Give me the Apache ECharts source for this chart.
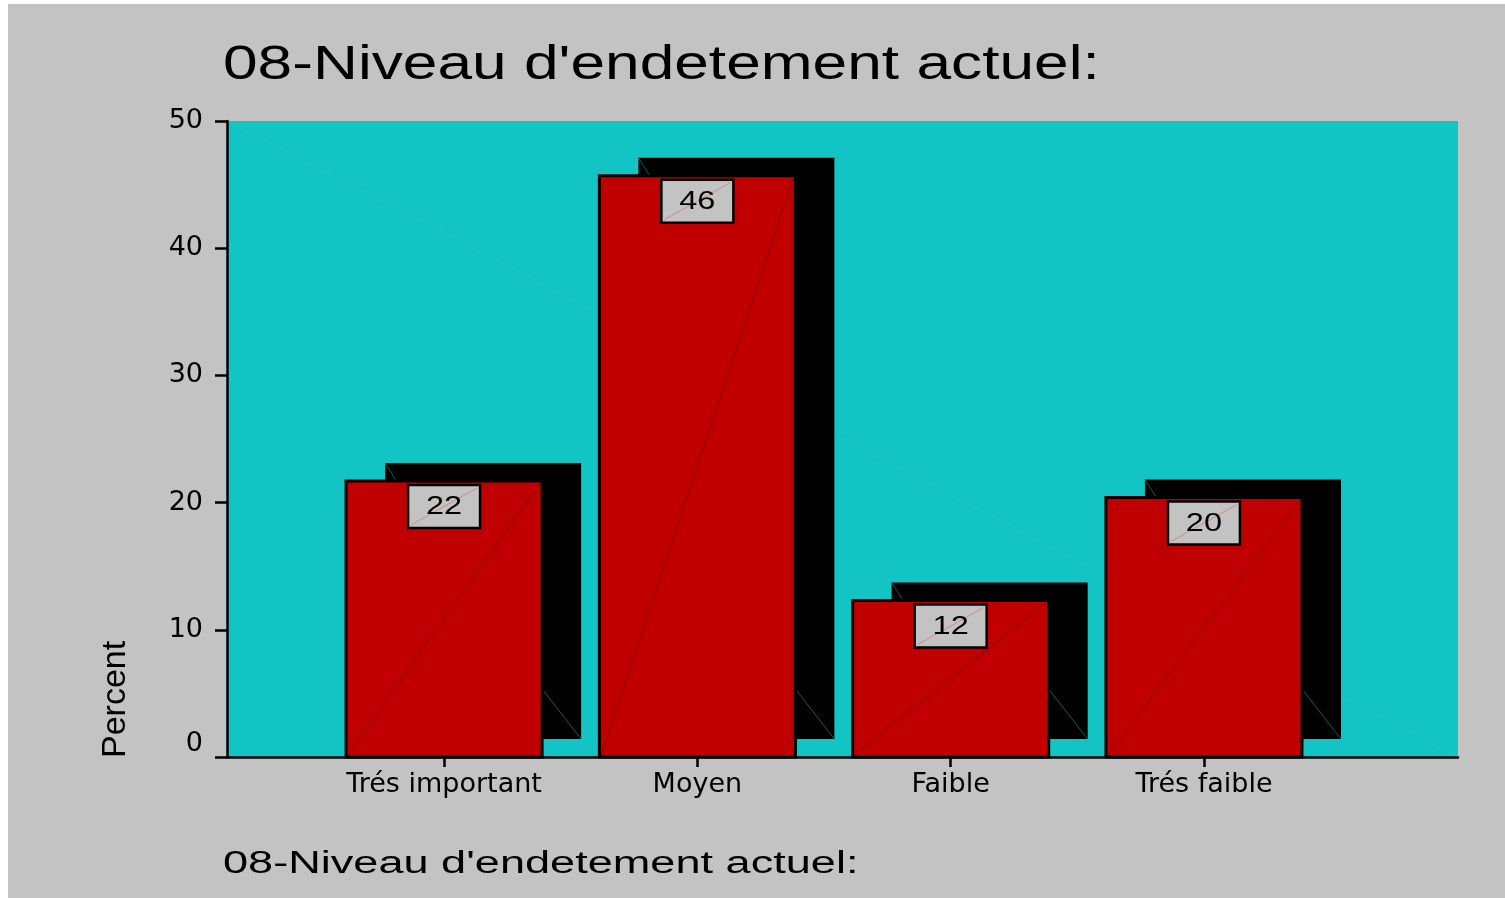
<!DOCTYPE html>
<html>
<head>
<meta charset="utf-8">
<script src="https://cdn.jsdelivr.net/npm/echarts@6/dist/echarts.min.js"></script>
<style>
  html, body { margin: 0; padding: 0; background: #ffffff; }
  #chart { position: absolute; left: 0; top: 0; width: 1505px; height: 898px; }
  .strip { position: absolute; background: #ffffff; z-index: 5; }
</style>
</head>
<body>
<div id="chart"></div>
<div class="strip" style="left:0;top:0;width:1505px;height:4px;"></div>
<div class="strip" style="left:0;top:0;width:8px;height:898px;"></div>
<script>
const chartTitle = "08-Niveau d'endetement actuel:";
const yAxisName = 'Percent';
const categories = ['Trés important', 'Moyen', 'Faible', 'Trés faible'];
const percents = [21.7, 45.7, 12.3, 20.4];
const yTicks = [0, 10, 20, 30, 40, 50];

const FONT = '"Liberation Sans", Arial, sans-serif';
const AXFONT = '"DejaVu Sans", "Liberation Sans", sans-serif';
const BAR_W = 0.774;
const SH_DX = 39, SH_DY = -18;
const X_MIN = -0.857, X_MAX = 4.003;
const catIdx = categories.map((c, i) => i);

const chart = echarts.init(document.getElementById('chart'), null, { renderer: 'canvas' });

const option = {
  backgroundColor: '#c3c3c3',
  animation: false,
  grid: {
    left: 227, right: 47, top: 121, bottom: 141,
    show: true, backgroundColor: '#12c4c4', borderWidth: 0
  },
  xAxis: {
    type: 'value', min: X_MIN, max: X_MAX,
    splitLine: { show: false },
    axisLine: { show: true, onZero: false, lineStyle: { color: '#000', width: 2.5 } },
    axisTick: { show: true, customValues: catIdx, length: 10, lineStyle: { color: '#000', width: 2.5 } },
    axisLabel: {
      customValues: catIdx, margin: 14,
      formatter: v => categories[Math.round(v)] || '',
      color: '#000', fontFamily: AXFONT, fontSize: 27
    }
  },
  yAxis: {
    type: 'value', min: yTicks[0], max: yTicks[yTicks.length - 1], interval: 10,
    splitLine: { show: false },
    axisLine: { show: true, onZero: false, lineStyle: { color: '#000', width: 2.5 } },
    axisTick: { show: true, length: 12, lineStyle: { color: '#000', width: 2.5 } },
    axisLabel: {
      margin: 24, color: '#000', fontFamily: AXFONT, fontSize: 27,
      formatter: v => (v === 0 ? '{z|0}' : String(v)),
      rich: { z: { padding: [0, 0, 26, 0], color: '#000', fontFamily: AXFONT, fontSize: 27 } }
    }
  },
  graphic: [
    {
      type: 'text', x: 223, y: 65, scaleX: 1.27,
      style: { text: chartTitle, font: '49px ' + FONT, fill: '#000', align: 'left', verticalAlign: 'middle' }
    },
    {
      type: 'text', x: 223, y: 864, scaleX: 1.455,
      style: { text: chartTitle, font: '31px ' + FONT, fill: '#000', align: 'left', verticalAlign: 'middle' }
    },
    {
      type: 'text', x: 116, y: 758, rotation: Math.PI / 2,
      style: { text: yAxisName, font: '34px ' + FONT, fill: '#000', align: 'left', verticalAlign: 'middle' }
    }
  ],
  series: [
    {
      type: 'line', data: [], z: 1, silent: true,
      markLine: {
        z: 1, silent: true, symbol: 'none', animation: false, label: { show: false },
        lineStyle: { color: 'rgba(255,255,255,0.07)', width: 1, type: 'solid' },
        data: [[{ coord: [X_MIN, yTicks[yTicks.length - 1]] }, { coord: [X_MAX, 0] }]]
      }
    },
    {
      type: 'custom', z: 3,
      data: percents.map((v, i) => [i, v]),
      renderItem: function (params, api) {
        const xi = api.value(0), v = api.value(1);
        const top = api.coord([xi, v]);
        const base = api.coord([xi, 0]);
        const w = api.size([BAR_W, 0])[0];
        const x0 = top[0] - w / 2;
        const h = base[1] - top[1];
        const bw = 72, bh = 43;
        return {
          type: 'group',
          children: [
            { type: 'rect', shape: { x: x0 + SH_DX, y: top[1] + SH_DY, width: w, height: h }, style: { fill: '#000' } },
            { type: 'line', shape: { x1: x0 + SH_DX, y1: top[1] + SH_DY, x2: x0 + SH_DX + 14, y2: top[1] + SH_DY + 22 }, style: { stroke: '#0c6060', lineWidth: 1 } },
            { type: 'line', shape: { x1: x0 + w, y1: base[1] - 68, x2: x0 + w + SH_DX, y2: base[1] + SH_DY }, style: { stroke: '#0c6060', lineWidth: 1 } },
            { type: 'rect', shape: { x: x0, y: top[1], width: w, height: h }, style: { fill: '#c00000', stroke: '#000', lineWidth: 3 } },
            { type: 'line', shape: { x1: x0 + 2, y1: base[1] - 2, x2: x0 + w - 2, y2: top[1] + 2 }, style: { stroke: '#8c0000', lineWidth: 1 } },
            { type: 'rect', shape: { x: top[0] - bw / 2, y: top[1] + 4, width: bw, height: bh }, style: { fill: '#c3c3c3', stroke: '#000', lineWidth: 2.5 } },
            { type: 'line', shape: { x1: top[0] - bw / 2 + 3, y1: top[1] + 4 + bh - 3, x2: top[0] + bw / 2 - 3, y2: top[1] + 7 }, style: { stroke: 'rgba(220,100,100,0.6)', lineWidth: 1 } },
            { type: 'text', x: top[0], y: top[1] + 4 + bh / 2 + 1, scaleX: 1.3,
              style: { text: String(Math.round(v)), font: '25px ' + FONT, fill: '#000', align: 'center', verticalAlign: 'middle' } }
          ]
        };
      }
    }
  ]
};
chart.setOption(option);
</script>
</body>
</html>
